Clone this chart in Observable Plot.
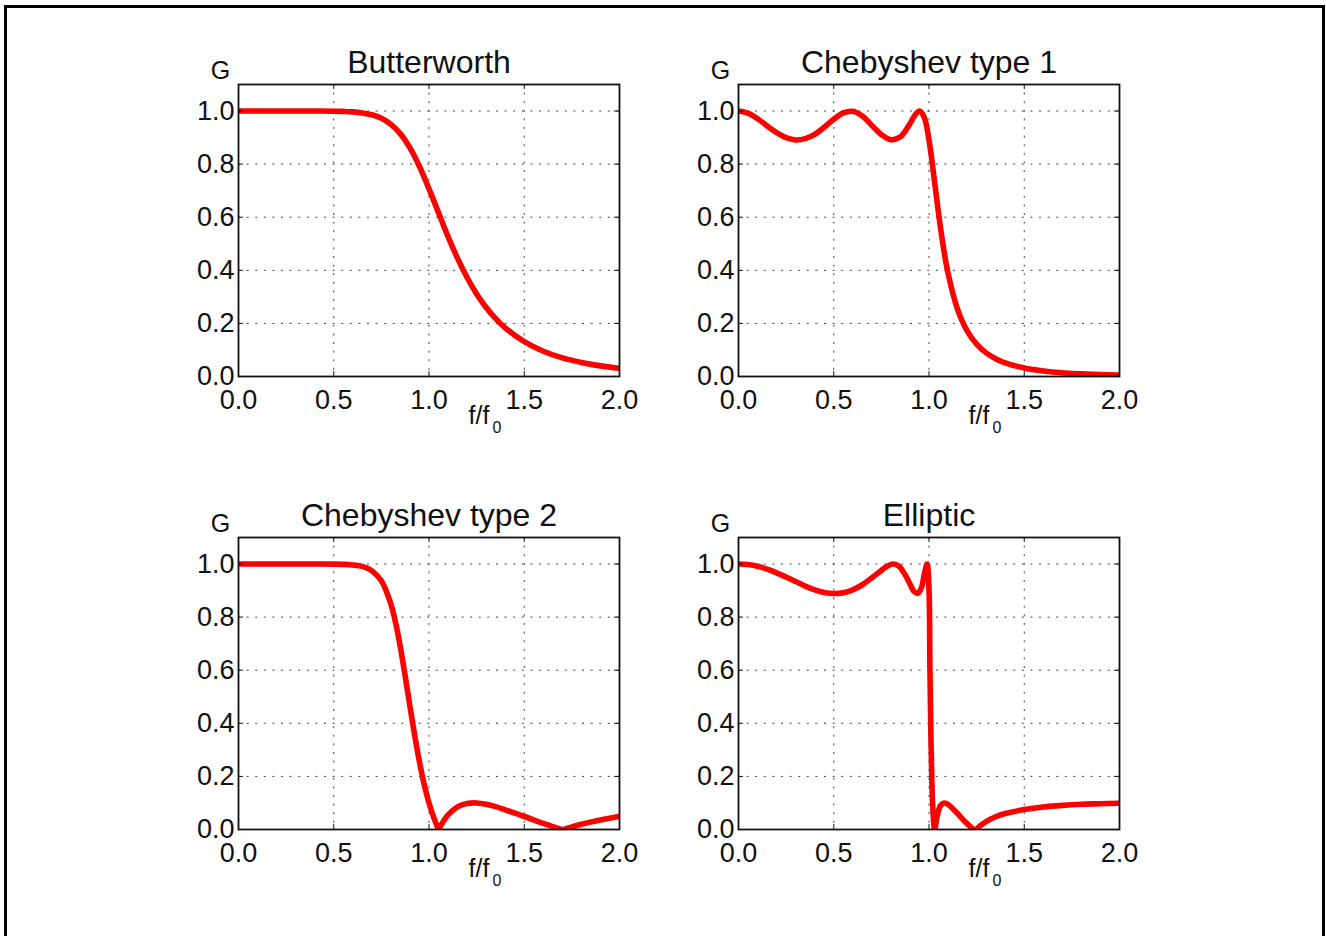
<!DOCTYPE html>
<html><head><meta charset="utf-8">
<script src="https://cdn.jsdelivr.net/npm/d3@7"></script>
<script src="https://cdn.jsdelivr.net/npm/@observablehq/plot@0.6"></script>
<style>
html,body{margin:0;padding:0;background:#fff;overflow:hidden;}
#page{position:relative;width:1326px;height:936px;overflow:hidden;background:#fff;}
#border{position:absolute;left:4px;top:5px;width:1321px;height:1000px;border:3px solid #000;box-sizing:border-box;}
.panel{position:absolute;}
</style></head><body><div id="page"><div id="border"></div></div>
<script>
// ---- data ----
const titles = ["Butterworth", "Chebyshev type 1", "Chebyshev type 2", "Elliptic"];
const xTicks = [0, 0.5, 1, 1.5, 2];
const xTickLabels = ["0.0", "0.5", "1.0", "1.5", "2.0"];
const yTicks = [0, 0.2, 0.4, 0.6, 0.8, 1.0];
const yTickLabels = ["0.0", "0.2", "0.4", "0.6", "0.8", "1.0"];
const yLabel = "G";
const xLabelMain = "f/f";
const xLabelSub = "0";

const butterX = [0,0.1,0.2,0.3,0.4,0.5,0.55,0.6,0.65,0.7,0.75,0.8,0.85,0.9,0.95,1.0,1.05,1.1,1.15,1.2,1.25,1.3,1.35,1.4,1.5,1.6,1.7,1.8,1.9,2.0];
const butterG = [1,1,1,1,1,0.9995,0.9987,0.997,0.993,0.986,0.973,0.950,0.914,0.861,0.791,0.707,0.617,0.527,0.445,0.373,0.311,0.260,0.218,0.183,0.131,0.095,0.070,0.053,0.040,0.031];

const cheb1X = [0,0.05,0.1,0.15,0.2,0.25,0.3,0.35,0.4,0.45,0.5,0.55,0.6,0.65,0.7,0.75,0.8,0.85,0.9,0.925,0.95,0.975,1.0,1.025,1.05,1.075,1.1,1.15,1.2,1.25,1.3,1.35,1.4,1.5,1.6,1.7,1.8,1.9,2.0];
const cheb1G = [1.0,0.992,0.971,0.944,0.919,0.900,0.891,0.896,0.912,0.939,0.969,0.993,0.999,0.981,0.946,0.911,0.892,0.903,0.952,0.983,1.0,0.976,0.891,0.758,0.615,0.490,0.389,0.253,0.172,0.122,0.089,0.067,0.051,0.032,0.021,0.014,0.010,0.007,0.005];

const cheb2X = [0,0.1,0.2,0.3,0.4,0.5,0.55,0.6,0.65,0.7,0.75,0.8,0.825,0.85,0.875,0.9,0.925,0.95,0.975,1.0,1.025,1.04,1.05,1.06,1.075,1.1,1.15,1.2,1.25,1.3,1.35,1.4,1.5,1.6,1.65,1.7,1.75,1.8,1.9,2.0];
const cheb2G = [1,1,1,1,1,0.9996,0.9988,0.9966,0.991,0.975,0.937,0.849,0.778,0.686,0.578,0.464,0.354,0.254,0.169,0.100,0.045,0.018,0.002,0.012,0.030,0.055,0.085,0.098,0.100,0.095,0.086,0.074,0.049,0.023,0.011,0.000,0.010,0.020,0.036,0.050];

const ellipX = [0,0.05,0.1,0.15,0.2,0.25,0.3,0.35,0.4,0.45,0.5,0.55,0.6,0.65,0.7,0.75,0.78,0.81,0.84,0.87,0.9,0.92,0.94,0.96,0.975,0.99,1.0,1.005,1.01,1.015,1.02,1.03,1.04,1.06,1.08,1.1,1.15,1.2,1.24,1.27,1.3,1.35,1.4,1.5,1.6,1.7,1.8,1.9,2.0];
const ellipG = [1.0,0.998,0.992,0.981,0.967,0.951,0.934,0.917,0.903,0.893,0.889,0.892,0.903,0.922,0.948,0.976,0.992,1.0,0.993,0.965,0.925,0.898,0.889,0.91,0.96,1.0,0.9,0.6,0.35,0.18,0.08,0.0,0.04,0.09,0.1,0.095,0.06,0.022,0.0,0.015,0.03,0.048,0.06,0.075,0.085,0.091,0.095,0.097,0.099];

// ---- layout ----
const panels = [
  {title: titles[0], xs: butterX, gs: butterG, left: 238, top: 84},
  {title: titles[1], xs: cheb1X, gs: cheb1G, left: 738, top: 84},
  {title: titles[2], xs: cheb2X, gs: cheb2G, left: 238, top: 537},
  {title: titles[3], xs: ellipX, gs: ellipG, left: 738, top: 537}
];
const W = 381, H = 292;
const mL = 62, mT = 48, mR = 31, mB = 64;
const ink = "#111";
const grid = {stroke: "#222", strokeOpacity: 0.85, strokeWidth: 1, strokeDasharray: "2,6.6"};
const centered = {textAnchor: "middle", lineAnchor: "middle", fill: ink};

const page = document.getElementById("page");
for (const p of panels) {
  const data = p.xs.map((x, i) => ({x, g: p.gs[i]}));
  const chart = Plot.plot({
    width: mL + W + mR, height: mT + H + mB,
    marginLeft: mL, marginTop: mT, marginRight: mR, marginBottom: mB,
    style: {fontFamily: "'Liberation Sans', Arial, sans-serif", fontSize: "28px", color: ink, background: "transparent", overflow: "visible"},
    x: {domain: [0, 2]},
    y: {domain: [0, 1.1]},
    marks: [
      Plot.gridX(xTicks, grid),
      Plot.gridY(yTicks, grid),
      Plot.line(data, {x: "x", y: "g", stroke: "#ff0000", strokeWidth: 5.6, curve: "catmull-rom", clip: true}),
      Plot.tickX(xTicks, {x: d => d, insetTop: H - 5, stroke: ink}),
      Plot.tickX(xTicks, {x: d => d, insetBottom: H - 5, stroke: ink}),
      Plot.tickY(yTicks, {y: d => d, insetRight: W - 5, stroke: ink}),
      Plot.tickY(yTicks, {y: d => d, insetLeft: W - 5, stroke: ink}),
      Plot.frame({stroke: ink, strokeWidth: 1.8}),
      Plot.axisX(xTicks, {tickSize: 0, tickPadding: 13, label: null, fontSize: 27, fill: ink,
        tickFormat: d => xTickLabels[xTicks.indexOf(d)]}),
      Plot.axisY(yTicks, {tickSize: 0, tickPadding: 4, label: null, fontSize: 27, fill: ink,
        tickFormat: d => yTickLabels[yTicks.indexOf(d)]}),
      Plot.text([p.title], {frameAnchor: "top", dy: -22, fontSize: 32, ...centered}),
      Plot.text([yLabel], {frameAnchor: "top-left", dx: -18, dy: -14, fontSize: 25, ...centered}),
      Plot.text([xLabelMain], {frameAnchor: "bottom", dx: 50, dy: 39, fontSize: 25, ...centered}),
      Plot.text([xLabelSub], {frameAnchor: "bottom", dx: 68, dy: 51, fontSize: 16, ...centered})
    ]
  });
  chart.classList.add("panel");
  chart.style.left = (p.left - mL) + "px";
  chart.style.top = (p.top - mT) + "px";
  page.appendChild(chart);
}
</script></body></html>
